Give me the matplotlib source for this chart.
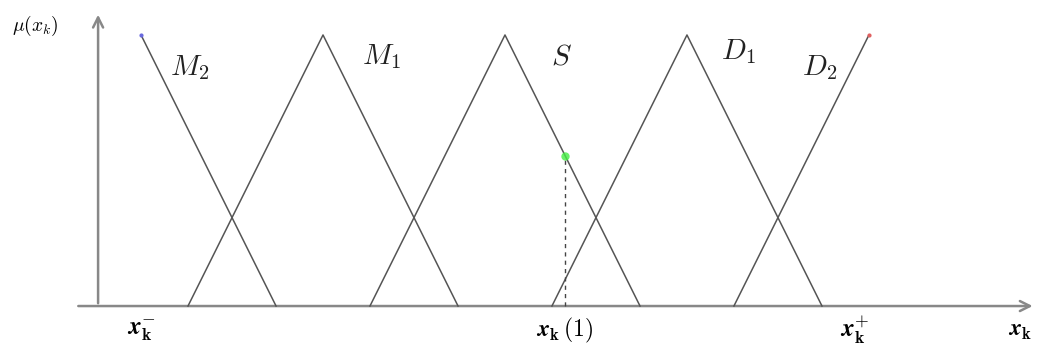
import matplotlib.pyplot as plt
from matplotlib.patches import FancyArrowPatch

plt.rcParams['mathtext.fontset'] = 'cm'

# Fuzzy sets: name, peak position, shape
set_names = ['M_2', 'M_1', 'S', 'D_1', 'D_2']
set_peaks = [-2.0, -1.0, 0.0, 1.0, 2.0]
set_shapes = ['right', 'tri', 'tri', 'tri', 'left']
half_width = 0.742

# Sample input and label positions
x_sample = 0.33
label_pos = {'M_2': (-1.73, 0.88), 'M_1': (-0.68, 0.92), 'S': (0.31, 0.92),
             'D_1': (1.28, 0.94), 'D_2': (1.73, 0.88)}

fig = plt.figure(figsize=(10.4, 3.57), dpi=100)
ax = fig.add_axes([0, 0, 1, 1])
ax.set_xlim(-2.775, 2.940)
ax.set_ylim(-0.188, 1.129)
ax.axis('off')

line_kw = dict(color='#555555', lw=1.1)
for name, c, shape in zip(set_names, set_peaks, set_shapes):
    if shape == 'tri':
        ax.plot([c - half_width, c, c + half_width], [0, 1, 0], **line_kw)
    elif shape == 'right':
        ax.plot([c, c + half_width], [1, 0], **line_kw)
    else:
        ax.plot([c - half_width, c], [0, 1], **line_kw)
    lx, ly = label_pos[name]
    ax.text(lx, ly, f'${name}$', fontsize=21, ha='center', va='center', color='#222222')

# tiny arrow tips on the shoulder sets
ax.plot(set_peaks[0], 1, marker='.', color='#6a6adf', ms=4)
ax.plot(set_peaks[-1], 1, marker='.', color='#e06060', ms=4)

# axes with arrows
y_axis_x = -2.236
ax.add_patch(FancyArrowPatch((y_axis_x, 0), (y_axis_x, 1.085), arrowstyle='->',
                             mutation_scale=18, color='#888888', lw=1.8))
ax.add_patch(FancyArrowPatch((-2.36, 0), (2.915, 0), arrowstyle='->',
                             mutation_scale=18, color='#888888', lw=1.8))

# membership of the sample in S
mu_sample = 1 - (x_sample - set_peaks[2]) / half_width
ax.plot([x_sample, x_sample], [0, mu_sample], ls=(0, (3, 3)), color='#444444', lw=1)
ax.plot(x_sample, mu_sample, 'o', color='#44ee44', ms=6, mec='none', alpha=0.8)

# labels
ax.text(-2.58, 1.035, r'$\mu(x_k)$', fontsize=14, ha='center', va='center')
ax.text(-2.0, -0.09, r'$\boldsymbol{x}_{\mathbf{k}}^{\mathbf{-}}$', fontsize=18, ha='center', va='center')
ax.text(x_sample, -0.09, r'$\boldsymbol{x}_{\mathbf{k}}\,\mathbf{(1)}$', fontsize=17, ha='center', va='center')
ax.text(1.92, -0.09, r'$\boldsymbol{x}_{\mathbf{k}}^{\mathbf{+}}$', fontsize=18, ha='center', va='center')
ax.text(2.83, -0.09, r'$\boldsymbol{x}_{\mathbf{k}}$', fontsize=17, ha='center', va='center')

fig.savefig('out.png', dpi=100)
